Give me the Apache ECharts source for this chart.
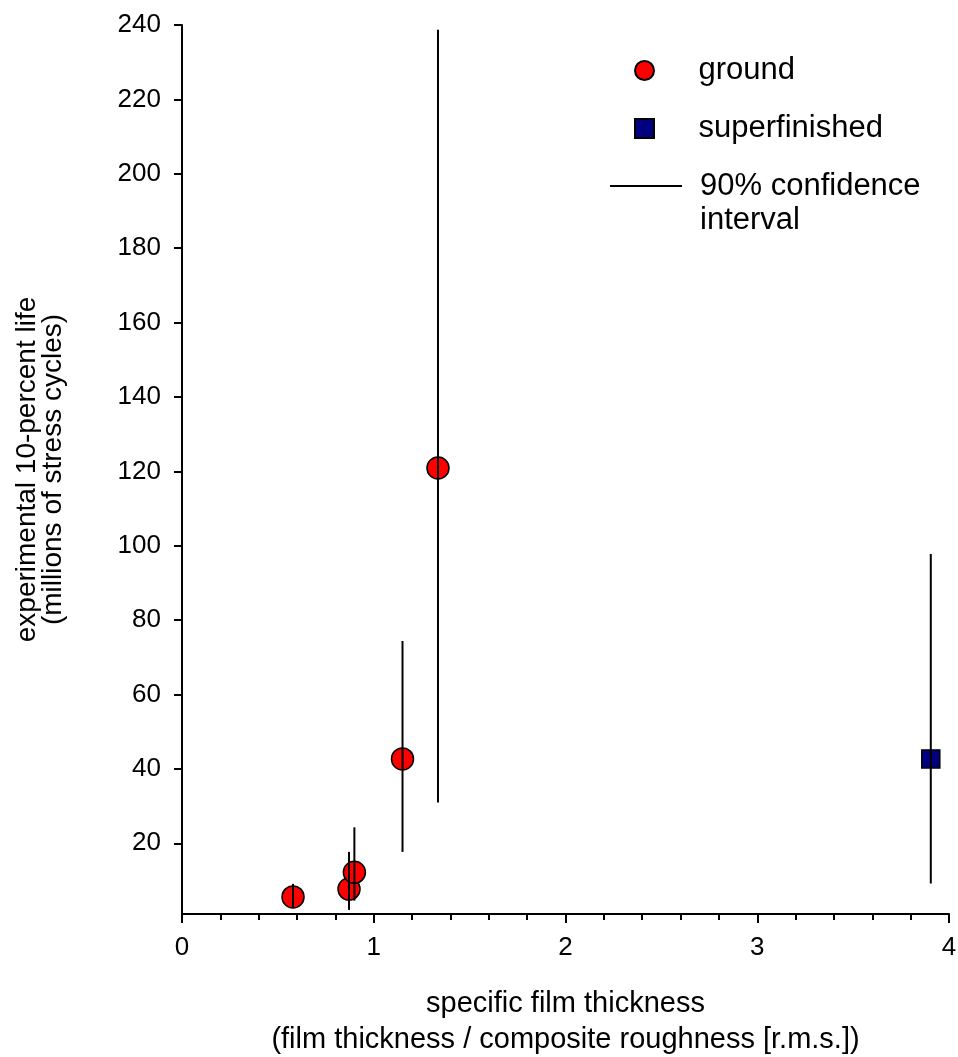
<!DOCTYPE html>
<html>
<head>
<meta charset="utf-8">
<script src="https://cdn.jsdelivr.net/npm/echarts@6/dist/echarts.min.js"></script>
<style>html,body{margin:0;padding:0;background:#fff}#c{width:958px;height:1057px}</style>
</head>
<body>
<div id="c"></div>
<script>
// ---- data ----
const groundX = [0.579, 0.871, 0.899, 1.15, 1.335];
const groundY = [5.6, 7.7, 12.2, 42.7, 120.9];
const groundLow = [2.8, 2.1, 4.6, 17.7, 31.0];
const groundHigh = [9.1, 17.7, 24.3, 74.4, 238.7];
const superX = [3.905];
const superY = [42.7];
const superLow = [9.2];
const superHigh = [97.8];
const yTicks = [20, 40, 60, 80, 100, 120, 140, 160, 180, 200, 220, 240];

const FONT = 'Liberation Sans, Arial, sans-serif';
const ciName = '90% confidence interval';

const groundData = groundX.map((x, i) => [x, groundY[i]]);
const superData = superX.map((x, i) => [x, superY[i]]);
const ciData = groundX.map((x, i) => [x, groundLow[i], groundHigh[i]])
  .concat(superX.map((x, i) => [x, superLow[i], superHigh[i]]));

const chart = echarts.init(document.getElementById('c'), null, {renderer: 'canvas'});
chart.setOption({
  backgroundColor: '#fff',
  animation: false,
  textStyle: {fontFamily: FONT, color: '#000'},
  grid: {left: 182, right: 9, top: 25, bottom: 143, containLabel: false, outerBoundsMode: 'none'},
  legend: [{
    orient: 'vertical', left: 629, top: 48, itemWidth: 20, itemHeight: 19, itemGap: 23,
    data: [
      {name: 'ground', icon: 'circle'},
      {name: 'superfinished', icon: 'path://M0,0h10v10h-10z'}
    ],
    textStyle: {fontFamily: FONT, fontSize: 31, lineHeight: 35, color: '#000', padding: [0, 0, 0, 39]},
    selectedMode: false
  }, {
    orient: 'vertical', left: 605, top: 130, itemWidth: 72, itemHeight: 20,
    data: [{name: ciName, icon: 'path://M0,0h72v2h-72z', itemStyle: {color: '#000', borderWidth: 0}}],
    formatter: () => '\n90% confidence\ninterval',
    textStyle: {fontFamily: FONT, fontSize: 31, lineHeight: 34, color: '#000', padding: [0, 0, 0, 13]},
    selectedMode: false
  }],
  xAxis: {
    type: 'value', min: 0, max: 4, interval: 1,
    name: 'specific film thickness\n(film thickness / composite roughness [r.m.s.])',
    nameLocation: 'middle', nameGap: 72,
    nameTextStyle: {fontFamily: FONT, fontSize: 29, lineHeight: 36, color: '#000'},
    axisLine: {show: true, onZero: false, lineStyle: {color: '#000', width: 2}},
    axisTick: {show: true, inside: false, length: 9, lineStyle: {color: '#000', width: 2}},
    minorTick: {show: true, splitNumber: 5, length: 6, lineStyle: {color: '#000', width: 2}},
    axisLabel: {fontFamily: FONT, fontSize: 26, color: '#000', margin: 21},
    splitLine: {show: false}
  },
  yAxis: {
    type: 'value', min: 1, max: 240,
    name: 'experimental 10-percent life\n(millions of stress cycles)',
    nameLocation: 'middle', nameGap: 116,
    nameTextStyle: {fontFamily: FONT, fontSize: 28, lineHeight: 26, color: '#000'},
    axisLine: {show: true, onZero: false, lineStyle: {color: '#000', width: 2}},
    axisTick: {show: true, inside: false, length: 8, customValues: yTicks, lineStyle: {color: '#000', width: 2}},
    axisLabel: {fontFamily: FONT, fontSize: 26, color: '#000', margin: 21, customValues: yTicks},
    splitLine: {show: false}
  },
  series: [{
    name: 'ground', type: 'scatter', symbol: 'circle', symbolSize: 22, z: 2,
    itemStyle: {color: '#ff0000', borderColor: '#000', borderWidth: 1.5, opacity: 1},
    data: groundData
  }, {
    name: 'superfinished', type: 'scatter', symbol: 'rect', symbolSize: 18, z: 2,
    itemStyle: {color: '#000080', borderColor: '#000', borderWidth: 1.5, opacity: 1},
    data: superData
  }, {
    name: ciName, type: 'custom', z: 5,
    itemStyle: {color: '#000'},
    encode: {x: 0, y: [1, 2]},
    renderItem: function (params, api) {
      const x = api.value(0);
      const p1 = api.coord([x, api.value(1)]);
      const p2 = api.coord([x, api.value(2)]);
      return {
        type: 'line',
        shape: {x1: p1[0], y1: p1[1], x2: p2[0], y2: p2[1]},
        style: {stroke: '#000', lineWidth: 2}
      };
    },
    data: ciData
  }]
});
</script>
</body>
</html>
